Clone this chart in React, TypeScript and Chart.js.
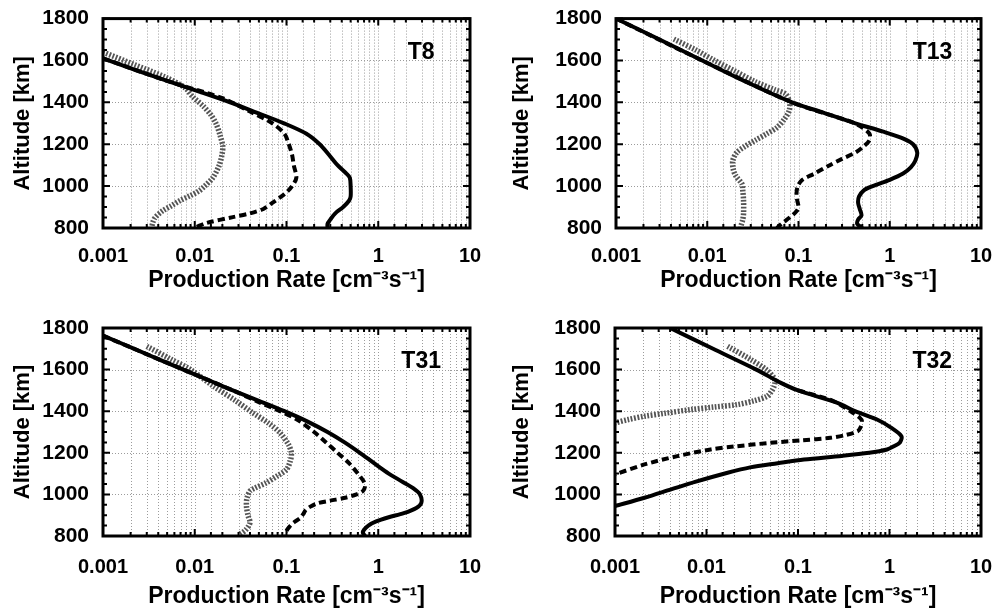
import React, { useEffect, useRef } from 'react';
import { Chart, registerables } from 'chart.js';

Chart.register(...registerables);

const FONT = '"Liberation Sans", Arial, Helvetica, sans-serif';

// ---- axis / text data ----
const xTickLabels = ['0.001', '0.01', '0.1', '1', '10'];
const xMin = 0.001;
const xMax = 10;
const yMin = 800;
const yMax = 1800;
const yStep = 200;
const yMinorStep = 50;
const panelNames = ['T8', 'T13', 'T31', 'T32'];
const xTitle = 'Production Rate [cm⁻³s⁻¹]';
const yTitle = 'Altitude [km]';

// ---- T8 ----
const t8SolidAlt = [1610, 1550, 1500, 1450, 1400, 1350, 1300, 1250, 1200, 1150, 1100, 1060, 1040, 1000, 950, 930, 900, 870, 840, 820, 800];
const t8SolidRate = [0.001, 0.0024, 0.0052, 0.0114, 0.0243, 0.048, 0.094, 0.165, 0.23, 0.29, 0.36, 0.45, 0.49, 0.5, 0.5, 0.48, 0.415, 0.34, 0.3, 0.28, 0.28];
const t8DashedAlt = [1610, 1500, 1420, 1356, 1300, 1250, 1200, 1150, 1100, 1040, 1000, 970, 946, 920, 891, 870, 852, 824, 805];
const t8DashedRate = [0.001, 0.0052, 0.02, 0.04, 0.07, 0.095, 0.106, 0.115, 0.12, 0.128, 0.115, 0.1, 0.085, 0.07, 0.056, 0.04, 0.026, 0.0134, 0.0104];
const t8DottedAlt = [1640, 1580, 1520, 1470, 1427, 1380, 1340, 1300, 1246, 1190, 1150, 1100, 1041, 1000, 978, 955, 931, 905, 883, 850, 828, 805];
const t8DottedRate = [0.001, 0.0022, 0.0048, 0.0078, 0.0095, 0.0125, 0.015, 0.017, 0.0188, 0.0202, 0.0198, 0.0185, 0.0158, 0.0128, 0.0112, 0.009, 0.0069, 0.0055, 0.0045, 0.0037, 0.0035, 0.0034];

// ---- T13 ----
const t13SolidAlt = [1800, 1700, 1600, 1500, 1400, 1350, 1300, 1260, 1230, 1200, 1160, 1120, 1090, 1060, 1030, 1000, 980, 950, 920, 890, 860, 840, 820, 800];
const t13SolidRate = [0.001, 0.003, 0.0088, 0.026, 0.085, 0.19, 0.42, 0.85, 1.35, 1.8, 2.0, 1.9, 1.7, 1.4, 1.0, 0.65, 0.52, 0.46, 0.45, 0.47, 0.49, 0.45, 0.44, 0.5];
const t13DashedAlt = [1800, 1600, 1400, 1310, 1280, 1250, 1220, 1190, 1160, 1130, 1100, 1060, 1030, 1000, 960, 930, 900, 880, 850, 820, 800];
const t13DashedRate = [0.001, 0.0088, 0.085, 0.36, 0.5, 0.6, 0.6, 0.52, 0.42, 0.3, 0.22, 0.15, 0.11, 0.098, 0.095, 0.097, 0.1, 0.095, 0.08, 0.065, 0.058];
const t13DottedAlt = [1702, 1650, 1600, 1550, 1500, 1460, 1440, 1400, 1360, 1320, 1280, 1250, 1220, 1190, 1160, 1120, 1080, 1050, 1010, 980, 930, 870, 840, 805];
const t13DottedRate = [0.0043, 0.0075, 0.012, 0.02, 0.033, 0.055, 0.072, 0.08, 0.079, 0.07, 0.058, 0.045, 0.034, 0.026, 0.021, 0.019, 0.0193, 0.0205, 0.024, 0.0245, 0.025, 0.025, 0.0245, 0.0232];

// ---- T31 ----
const t31SolidAlt = [1763, 1700, 1650, 1600, 1550, 1500, 1450, 1400, 1350, 1300, 1250, 1200, 1150, 1100, 1060, 1030, 1000, 960, 935, 910, 890, 870, 850, 830, 815, 800];
const t31SolidRate = [0.001, 0.0022, 0.004, 0.0075, 0.014, 0.026, 0.05, 0.095, 0.17, 0.28, 0.43, 0.63, 0.9, 1.3, 1.85, 2.4, 2.85, 2.95, 2.6, 1.9, 1.3, 0.95, 0.78, 0.7, 0.68, 0.72];
const t31DashedAlt = [1763, 1600, 1500, 1440, 1400, 1360, 1300, 1250, 1200, 1150, 1100, 1060, 1040, 1016, 1000, 985, 970, 958, 940, 925, 905, 885, 865, 845, 825, 805];
const t31DashedRate = [0.001, 0.0075, 0.026, 0.052, 0.085, 0.13, 0.2, 0.27, 0.36, 0.48, 0.6, 0.7, 0.72, 0.68, 0.58, 0.45, 0.3, 0.22, 0.18, 0.162, 0.152, 0.14, 0.12, 0.108, 0.1, 0.097];
const t31DottedAlt = [1712, 1650, 1600, 1520, 1450, 1392, 1340, 1296, 1240, 1200, 1160, 1120, 1090, 1056, 1030, 1016, 980, 944, 900, 864, 830, 808];
const t31DottedRate = [0.003, 0.0055, 0.009, 0.016, 0.028, 0.043, 0.065, 0.085, 0.105, 0.113, 0.11, 0.1, 0.08, 0.06, 0.045, 0.04, 0.037, 0.0366, 0.038, 0.04, 0.036, 0.031];

// ---- T32 ----
const t32SolidAlt = [1800, 1700, 1600, 1536, 1500, 1440, 1400, 1360, 1320, 1280, 1250, 1230, 1216, 1200, 1185, 1168, 1150, 1130, 1104, 1060, 1024, 984, 944];
const t32SolidRate = [0.004, 0.0118, 0.035, 0.065, 0.1, 0.27, 0.42, 0.73, 1.05, 1.35, 1.3, 1.1, 0.94, 0.6, 0.3, 0.116, 0.06, 0.03, 0.017, 0.0075, 0.0041, 0.0021, 0.001];
const t32DashedAlt = [1500, 1450, 1400, 1370, 1352, 1320, 1304, 1285, 1272, 1260, 1248, 1230, 1216, 1184, 1144, 1096];
const t32DashedRate = [0.1, 0.24, 0.376, 0.47, 0.5, 0.48, 0.45, 0.33, 0.227, 0.11, 0.05, 0.02, 0.0111, 0.0048, 0.0021, 0.001];
const t32DottedAlt = [1712, 1650, 1600, 1560, 1540, 1520, 1500, 1472, 1450, 1432, 1420, 1408, 1390, 1376, 1360, 1344];
const t32DottedRate = [0.017, 0.03, 0.045, 0.0547, 0.056, 0.0547, 0.052, 0.046, 0.033, 0.0218, 0.012, 0.0068, 0.0035, 0.0021, 0.0014, 0.001];

type StyleKey = 'solid' | 'dashed' | 'dotted';
const lineStyles: Record<StyleKey, { color: string; width: number; dash: number[] }> = {
  solid: { color: '#000000', width: 4, dash: [] },
  dashed: { color: '#000000', width: 4, dash: [7, 4] },
  dotted: { color: '#555555', width: 5.5, dash: [1.8, 1.6] },
};

type SeriesDef = { alt: number[]; rate: number[]; style: StyleKey };
type PanelDef = {
  name: string;
  left: number;
  top: number;
  padL: number;
  padT: number;
  padR: number;
  xH: number;
  xTickPad: number;
  xTitlePadB: number;
  yTitlePad: number;
  series: SeriesDef[];
};

const panels: PanelDef[] = [
  {
    name: panelNames[0], left: 0, top: 0, padL: 103, padT: 16, padR: 34, xH: 78, xTickPad: 8, xTitlePadB: 14, yTitlePad: 12,
    series: [
      { alt: t8SolidAlt, rate: t8SolidRate, style: 'solid' },
      { alt: t8DashedAlt, rate: t8DashedRate, style: 'dashed' },
      { alt: t8DottedAlt, rate: t8DottedRate, style: 'dotted' },
    ],
  },
  {
    name: panelNames[1], left: 504, top: 0, padL: 112, padT: 16, padR: 27, xH: 78, xTickPad: 8, xTitlePadB: 14, yTitlePad: 7,
    series: [
      { alt: t13SolidAlt, rate: t13SolidRate, style: 'solid' },
      { alt: t13DashedAlt, rate: t13DashedRate, style: 'dashed' },
      { alt: t13DottedAlt, rate: t13DottedRate, style: 'dotted' },
    ],
  },
  {
    name: panelNames[2], left: 0, top: 306, padL: 103, padT: 22, padR: 34, xH: 76, xTickPad: 11, xTitlePadB: 4, yTitlePad: 12,
    series: [
      { alt: t31SolidAlt, rate: t31SolidRate, style: 'solid' },
      { alt: t31DashedAlt, rate: t31DashedRate, style: 'dashed' },
      { alt: t31DottedAlt, rate: t31DottedRate, style: 'dotted' },
    ],
  },
  {
    name: panelNames[3], left: 504, top: 306, padL: 111, padT: 22, padR: 27, xH: 76, xTickPad: 11, xTitlePadB: 4, yTitlePad: 7,
    series: [
      { alt: t32SolidAlt, rate: t32SolidRate, style: 'solid' },
      { alt: t32DashedAlt, rate: t32DashedRate, style: 'dashed' },
      { alt: t32DottedAlt, rate: t32DottedRate, style: 'dotted' },
    ],
  },
];

const isDecade = (v: number) => {
  const l = Math.log10(v);
  return Math.abs(l - Math.round(l)) < 1e-6;
};

const framePlugin = {
  id: 'frame',
  beforeDatasetsDraw(chart: any) {
    const { ctx, chartArea: a, scales } = chart;
    const x = scales.x;
    const y = scales.y;
    ctx.save();
    ctx.strokeStyle = '#9c9c9c';
    ctx.lineWidth = 1;
    ctx.setLineDash([1, 2]);
    x.ticks.forEach((t: any) => {
      const px = Math.round(x.getPixelForValue(t.value)) + 0.5;
      if (px <= a.left + 2 || px >= a.right - 2) return;
      ctx.beginPath();
      ctx.moveTo(px, a.top);
      ctx.lineTo(px, a.bottom);
      ctx.stroke();
    });
    y.ticks.forEach((t: any) => {
      const py = Math.round(y.getPixelForValue(t.value)) + 0.5;
      if (py <= a.top + 2 || py >= a.bottom - 2) return;
      ctx.beginPath();
      ctx.moveTo(a.left, py);
      ctx.lineTo(a.right, py);
      ctx.stroke();
    });
    ctx.restore();
  },
  afterDatasetsDraw(chart: any, _args: any, opts: any) {
    const { ctx, chartArea: a, scales } = chart;
    const x = scales.x;
    const y = scales.y;
    ctx.save();
    ctx.setLineDash([]);
    ctx.strokeStyle = '#000';
    ctx.lineWidth = 2;
    x.ticks.forEach((t: any) => {
      const px = x.getPixelForValue(t.value);
      const len = isDecade(t.value) ? 7 : 4;
      ctx.beginPath();
      ctx.moveTo(px, a.bottom);
      ctx.lineTo(px, a.bottom - len);
      ctx.moveTo(px, a.top);
      ctx.lineTo(px, a.top + len);
      ctx.stroke();
    });
    for (let v = yMin; v <= yMax; v += yMinorStep) {
      const py = y.getPixelForValue(v);
      const len = v % yStep === 0 ? 7 : 4;
      ctx.beginPath();
      ctx.moveTo(a.left, py);
      ctx.lineTo(a.left + len, py);
      ctx.moveTo(a.right, py);
      ctx.lineTo(a.right - len, py);
      ctx.stroke();
    }
    ctx.lineWidth = 3;
    ctx.strokeRect(a.left, a.top, a.right - a.left, a.bottom - a.top);
    ctx.fillStyle = '#000';
    ctx.font = `bold 23px ${FONT}`;
    ctx.textAlign = 'center';
    ctx.textBaseline = 'middle';
    ctx.fillText(opts.label, a.left + (a.right - a.left) * 0.867, a.top + 34);
    ctx.restore();
  },
};

function Panel({ p }: { p: PanelDef }) {
  const ref = useRef<HTMLCanvasElement | null>(null);
  useEffect(() => {
    if (!ref.current) return;
    const datasets = p.series.map((s) => ({
      data: s.alt.map((alt, i) => ({ x: s.rate[i], y: alt })),
      showLine: true,
      pointRadius: 0,
      borderColor: lineStyles[s.style].color,
      borderWidth: lineStyles[s.style].width,
      borderDash: lineStyles[s.style].dash,
      borderCapStyle: 'butt',
      borderJoinStyle: 'round',
      tension: 0.3,
      fill: false,
    }));
    const tickFont = { family: FONT, size: 20, weight: 'bold' as const, lineHeight: 1.2 };
    const chart = new Chart(ref.current, {
      type: 'scatter',
      data: { datasets: datasets as any },
      options: {
        animation: false,
        responsive: false,
        maintainAspectRatio: false,
        layout: { padding: { left: 0, top: p.padT, right: p.padR, bottom: 0 } },
        plugins: {
          legend: { display: false },
          tooltip: { enabled: false },
          frame: { label: p.name },
        } as any,
        scales: {
          x: {
            type: 'logarithmic',
            min: xMin,
            max: xMax,
            grid: { display: false },
            border: { display: false },
            ticks: {
              autoSkip: false,
              maxRotation: 0,
              minRotation: 0,
              color: '#000',
              font: tickFont,
              padding: p.xTickPad,
              callback: (value: any) => {
                const v = Number(value);
                if (!isDecade(v)) return '';
                return xTickLabels[Math.round(Math.log10(v)) + 3] ?? '';
              },
            },
            title: {
              display: true,
              text: xTitle,
              color: '#000',
              font: { family: FONT, size: 23, weight: 'bold', lineHeight: 1 },
              padding: { top: 0, bottom: p.xTitlePadB },
            },
            afterFit: (s: any) => {
              s.height = p.xH;
            },
          },
          y: {
            type: 'linear',
            min: yMin,
            max: yMax,
            grid: { display: false },
            border: { display: false },
            ticks: {
              stepSize: yStep,
              color: '#000',
              font: { ...tickFont, size: 21 },
              padding: 6,
              callback: (value: any) => String(value),
            },
            title: {
              display: true,
              text: yTitle,
              color: '#000',
              font: { family: FONT, size: 22, weight: 'bold', lineHeight: 1 },
              padding: { top: p.yTitlePad, bottom: 0 },
            },
            afterFit: (s: any) => {
              s.width = p.padL;
            },
          },
        } as any,
      },
      plugins: [framePlugin as any],
    });
    return () => chart.destroy();
  }, [p]);
  return (
    <div style={{ position: 'absolute', left: p.left, top: p.top, width: 504, height: 306 }}>
      <canvas ref={ref} width={504} height={306} style={{ width: 504, height: 306, display: 'block' }} />
    </div>
  );
}

export default function App() {
  return (
    <div style={{ position: 'fixed', left: 0, top: 0, width: 1008, height: 612, background: '#fff', overflow: 'hidden' }}>
      {panels.map((p) => (
        <Panel key={p.name} p={p} />
      ))}
    </div>
  );
}
